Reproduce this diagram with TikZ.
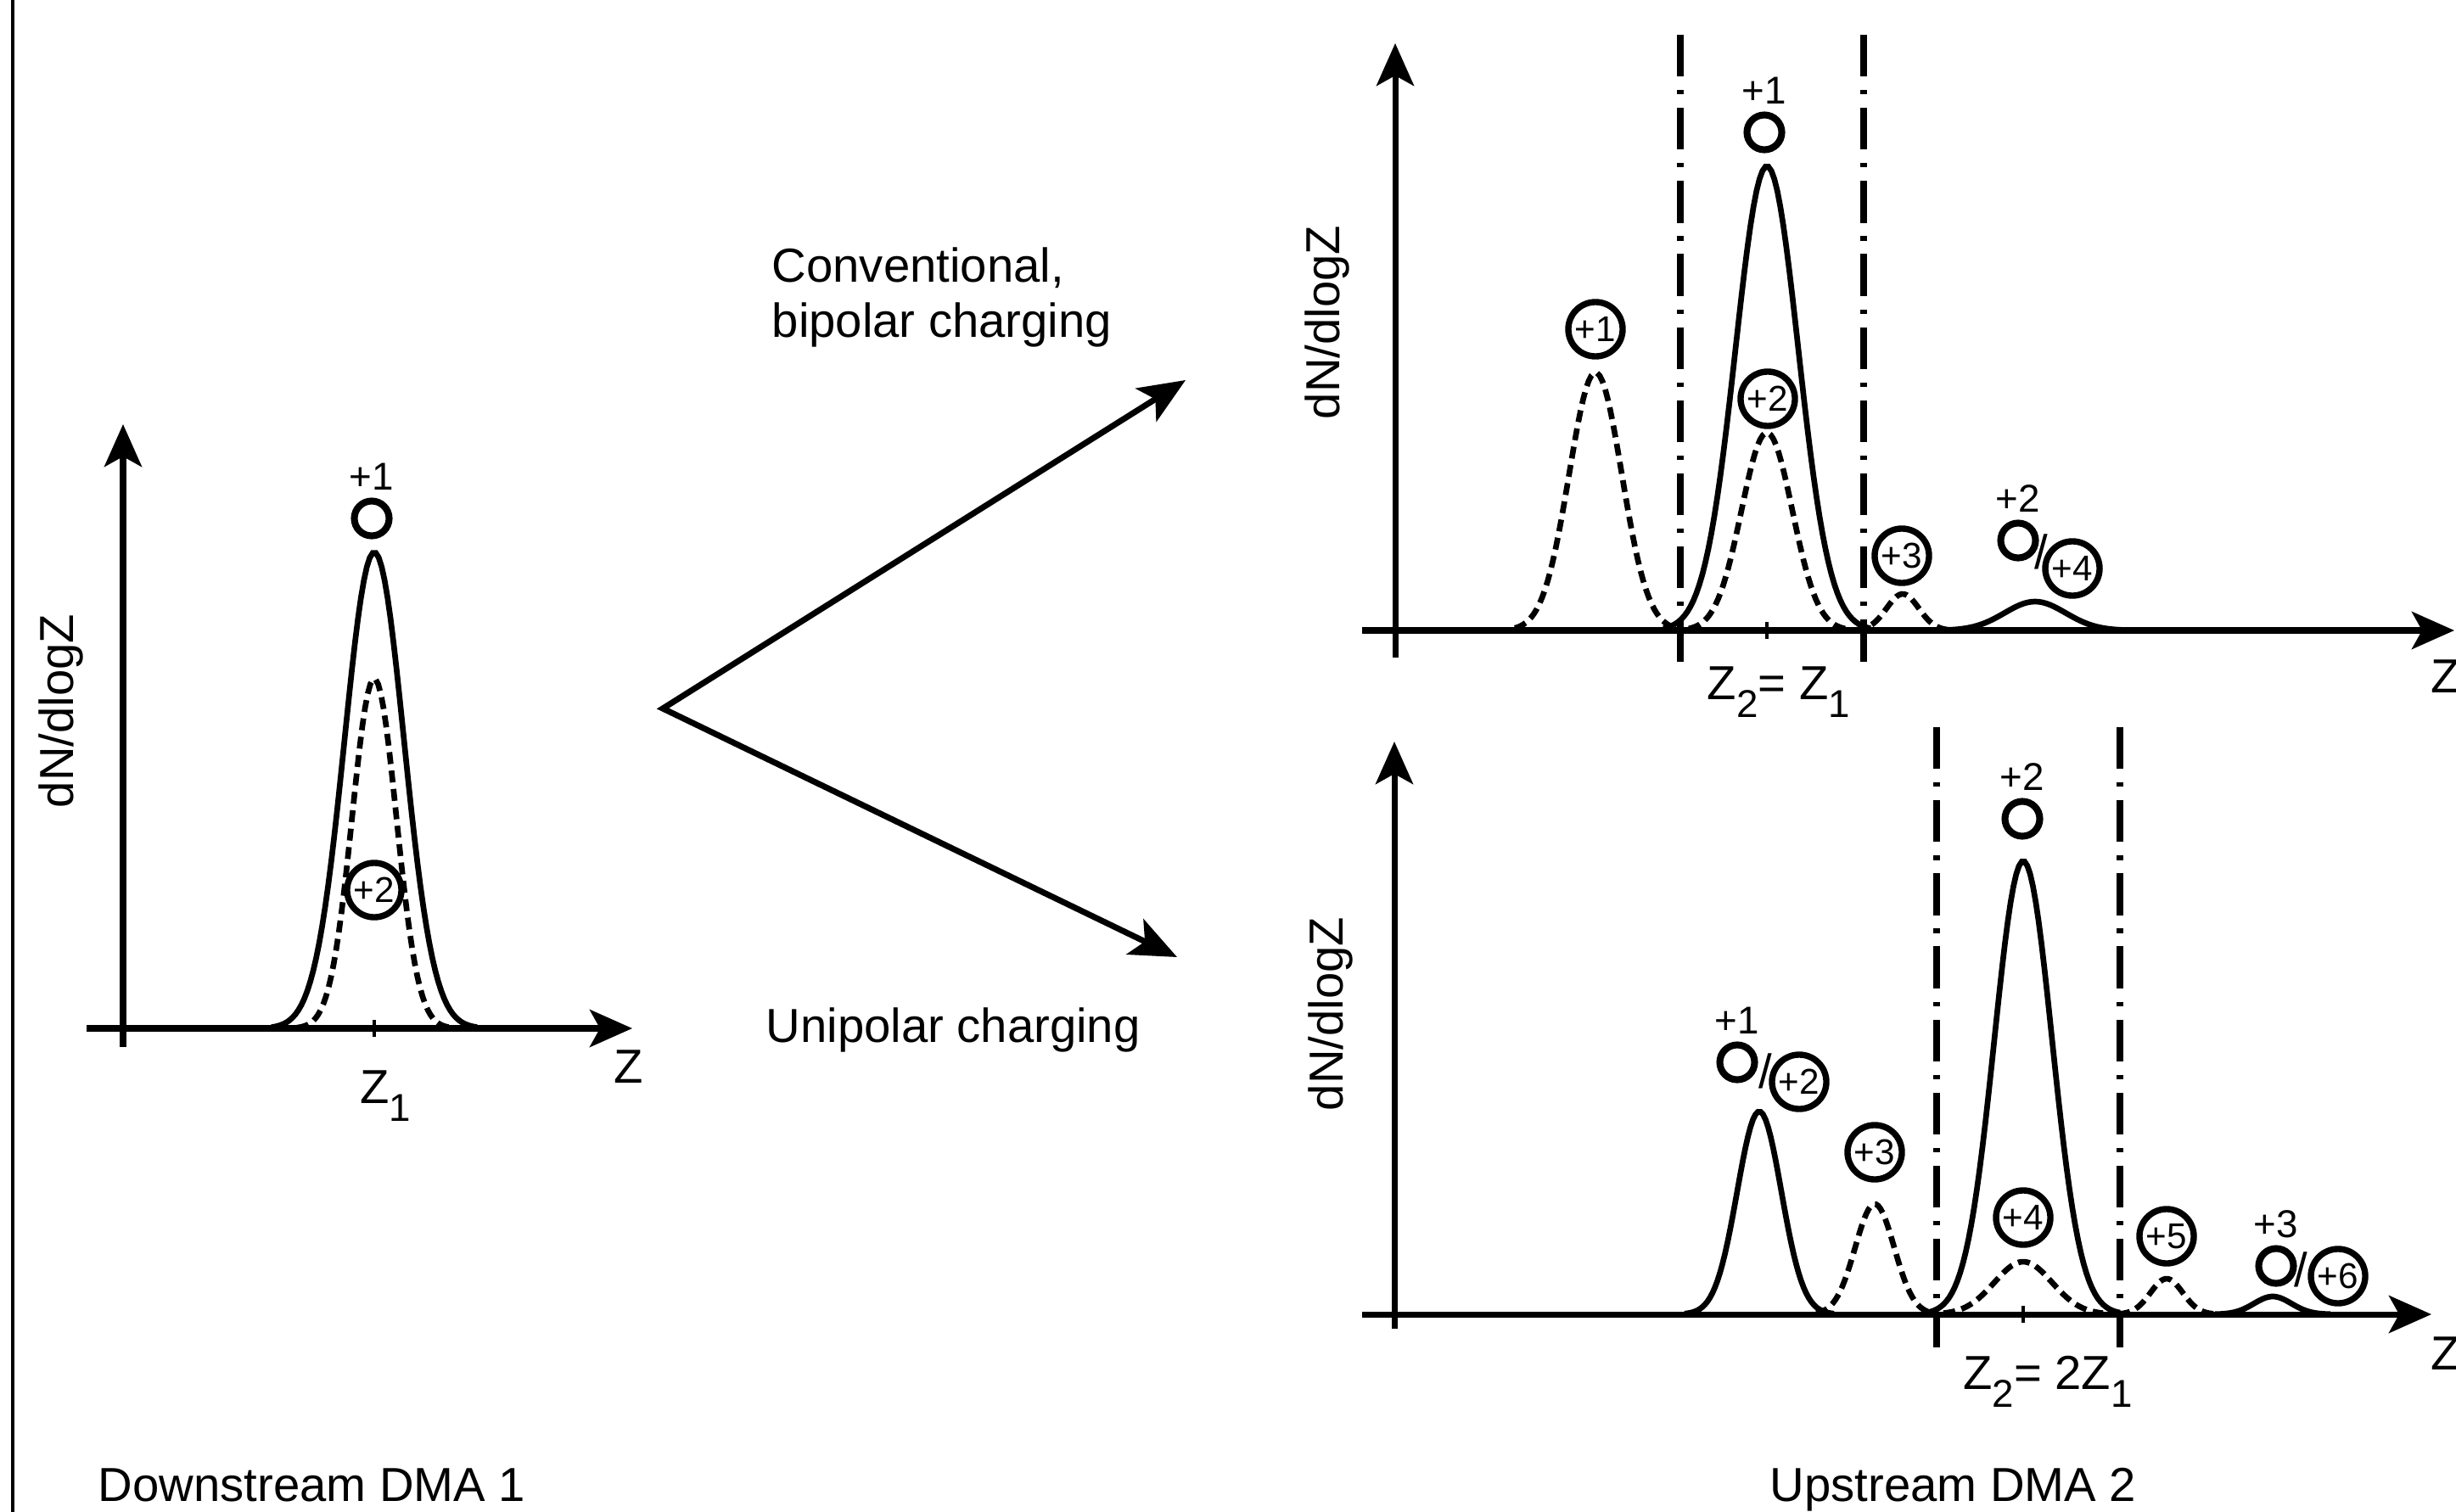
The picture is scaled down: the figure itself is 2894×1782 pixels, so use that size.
\documentclass[tikz,border=0pt]{standalone}
\usepackage{fontspec}
\setmainfont{Liberation Sans}
\usetikzlibrary{arrows.meta,positioning,calc}
\newcommand\sublow[1]{\raisebox{-6pt}{\fontsize{13}{13}\selectfont #1}}

\begin{document}
\begin{tikzpicture}[x=0.01cm,y=-0.01cm,>={Stealth[length=5mm,width=4.4mm,inset=1.2mm]}]
  \tikzstyle{place}=[circle,draw,line width=2.1pt,minimum size=6.4mm,inner sep=0pt,font=\fontsize{12}{13}\selectfont]
  \tikzstyle{hole}=[circle,draw,line width=2.3pt,minimum size=4.1mm,inner sep=0pt]
  \tikzstyle{charge}=[inner sep=0pt,font=\fontsize{13}{14}\selectfont]
  \tikzstyle{slash}=[inner sep=0pt,font=\fontsize{16}{16}\selectfont]
  \tikzstyle{texto}=[inner sep=0pt,font=\fontsize{16}{18}\selectfont]
  \tikzstyle{axisline}=[line width=2pt,->]
  \tikzstyle{flow}=[line width=2pt,line join=miter,>={Stealth[length=5.5mm,width=4.6mm,inset=1.3mm]}]
  \tikzstyle{full}=[line width=1.9pt]
  \tikzstyle{part}=[line width=1.9pt,dash pattern=on 4pt off 2.2pt]
  \tikzstyle{window}=[line width=2.3pt,dash pattern=on 14pt off 4.5pt on 1.5pt off 4.5pt]
  \tikzstyle{tickmark}=[line width=0.9pt]

  \useasboundingbox (0,0) rectangle (2894,1782);
  \draw[line width=1pt] (15,0) -- (15,1782);

  % downstream DMA 1
  \begin{scope}
    \coordinate (a0) at (145,1234);
    \coordinate (a1) at (145,500);
    \coordinate (a2) at (102,1212);
    \coordinate (a3) at (745,1212);
    \draw[axisline] (a0) -- (a1);
    \draw[axisline] (a2) -- (a3);
    \draw[tickmark] (441,1202) -- (441,1222);

    \draw[full] plot[domain=320:562,samples=70] (\x,{1212-561*exp(-((\x-441)/35)^2/2)});
    \draw[part] plot[domain=350:532,samples=60] (\x,{1212-412*exp(-((\x-441)/26)^2/2)});

    \node [hole] (a-o1) at (438,611) {};
    \node [charge] (a-q1) [above=0.8mm of a-o1] {+1};
    \node [place] (a-c2) at (441,1049) {+2};

    \node [texto,rotate=90] (a-ylab) at (72,838) {dN/dlogZ};
    \node [texto] (a-z) at (741,1257) {Z};
    \node [texto,anchor=base] (a-z1) at (454,1300) {Z\sublow{1}};
    \node [texto,anchor=base west] (a-name) at (115,1769) {Downstream DMA 1};
  \end{scope}

  % the two charging routes
  \begin{scope}
    \coordinate (fork) at (781,835);
    \coordinate (bip) at (1397,448);
    \coordinate (uni) at (1387,1128);
    \draw[flow,<->] (bip) -- (fork) -- (uni);

    \node [texto,anchor=base west] (bip-t1) at (909,332) {Conventional,};
    \node [texto,anchor=base west] (bip-t2) at (909,397) {bipolar charging};
    \node [texto,anchor=base west] (uni-t) at (902,1228) {Unipolar charging};
  \end{scope}

  % upstream DMA 2, bipolar
  \begin{scope}
    \coordinate (b0) at (1644,775);
    \coordinate (b1) at (1644,51);
    \coordinate (b2) at (1605,743);
    \coordinate (b3) at (2892,743);
    \draw[axisline] (b0) -- (b1);
    \draw[axisline] (b2) -- (b3);
    \draw[window] (1980,41) -- (1980,781);
    \draw[window] (2196,41) -- (2196,781);
    \draw[tickmark] (2082,733) -- (2082,753);

    \draw[full] plot[domain=1960:2204,samples=70] (\x,{743-547*exp(-((\x-2082)/37)^2/2)});
    \draw[part] plot[domain=1990:2174,samples=60] (\x,{743-233*exp(-((\x-2082)/30)^2/2)});
    \draw[part] plot[domain=1785:1975,samples=60] (\x,{743-304*exp(-((\x-1880)/31)^2/2)});
    \draw[part] plot[domain=2185:2300,samples=40] (\x,{743-43*exp(-((\x-2242)/19)^2/2)});
    \draw[full] plot[domain=2290:2510,samples=50] (\x,{743-34*exp(-((\x-2398)/36)^2/2)});

    \node [hole] (b-o1) at (2079,156) {};
    \node [charge] (b-q1) [above=0.8mm of b-o1] {+1};
    \node [place] (b-c1) at (1880,388) {+1};
    \node [place] (b-c2) at (2083,470) {+2};
    \node [place] (b-c3) at (2241,655) {+3};
    \node [hole] (b-o2) at (2378,637) {};
    \node [charge] (b-q2) [above=0.8mm of b-o2] {+2};
    \node [place] (b-c4) at (2442,670) {+4};
    \node [slash] (b-s) at ($(b-o2)!0.42!(b-c4)$) {/};

    \node [texto,rotate=90] (b-ylab) at (1564,380) {dN/dlogZ};
    \node [texto,anchor=west] (b-z) at (2864,797) {Z};
    \node [texto,anchor=base] (b-z2) at (2096,824) {Z\sublow{2}= Z\sublow{1}};
  \end{scope}

  % upstream DMA 2, unipolar
  \begin{scope}
    \coordinate (c0) at (1643,1566);
    \coordinate (c1) at (1643,874);
    \coordinate (c2) at (1605,1549);
    \coordinate (c3) at (2865,1549);
    \draw[axisline] (c0) -- (c1);
    \draw[axisline] (c2) -- (c3);
    \draw[window] (2282,857) -- (2282,1588);
    \draw[window] (2498,857) -- (2498,1588);
    \draw[tickmark] (2384,1539) -- (2384,1559);

    \draw[full] plot[domain=1985:2161,samples=60] (\x,{1549-239*exp(-((\x-2073)/26)^2/2)});
    \draw[part] plot[domain=2140:2278,samples=50] (\x,{1549-130*exp(-((\x-2209)/23)^2/2)});
    \draw[full] plot[domain=2270:2498,samples=70] (\x,{1549-534*exp(-((\x-2384)/34)^2/2)});
    \draw[part] plot[domain=2290:2478,samples=50] (\x,{1549-62*exp(-((\x-2384)/34)^2/2)});
    \draw[part] plot[domain=2496:2610,samples=40] (\x,{1549-42*exp(-((\x-2553)/19)^2/2)});
    \draw[full] plot[domain=2610:2746,samples=40] (\x,{1549-21*exp(-((\x-2678)/22)^2/2)});

    \node [hole] (c-o2) at (2383,965) {};
    \node [charge] (c-q2) [above=0.8mm of c-o2] {+2};
    \node [hole] (c-o1) at (2047,1252) {};
    \node [charge] (c-q1) [above=0.8mm of c-o1] {+1};
    \node [place] (c-c2) at (2120,1275) {+2};
    \node [slash] (c-s1) at ($(c-o1)!0.45!(c-c2)$) {/};
    \node [place] (c-c3) at (2209,1358) {+3};
    \node [place] (c-c4) at (2384,1435) {+4};
    \node [place] (c-c5) at (2553,1457) {+5};
    \node [hole] (c-o3) at (2682,1492) {};
    \node [charge] (c-q3) [above=0.8mm of c-o3] {+3};
    \node [place] (c-c6) at (2755,1504) {+6};
    \node [slash] (c-s2) at ($(c-o3)!0.4!(c-c6)$) {/};

    \node [texto,rotate=90] (c-ylab) at (1568,1195) {dN/dlogZ};
    \node [texto,anchor=west] (c-z) at (2864,1595) {Z};
    \node [texto,anchor=base] (c-z2) at (2413,1637) {Z\sublow{2}= 2Z\sublow{1}};
    \node [texto,anchor=base west] (c-name) at (2085,1769) {Upstream DMA 2};
  \end{scope}
\end{tikzpicture}
\end{document}
